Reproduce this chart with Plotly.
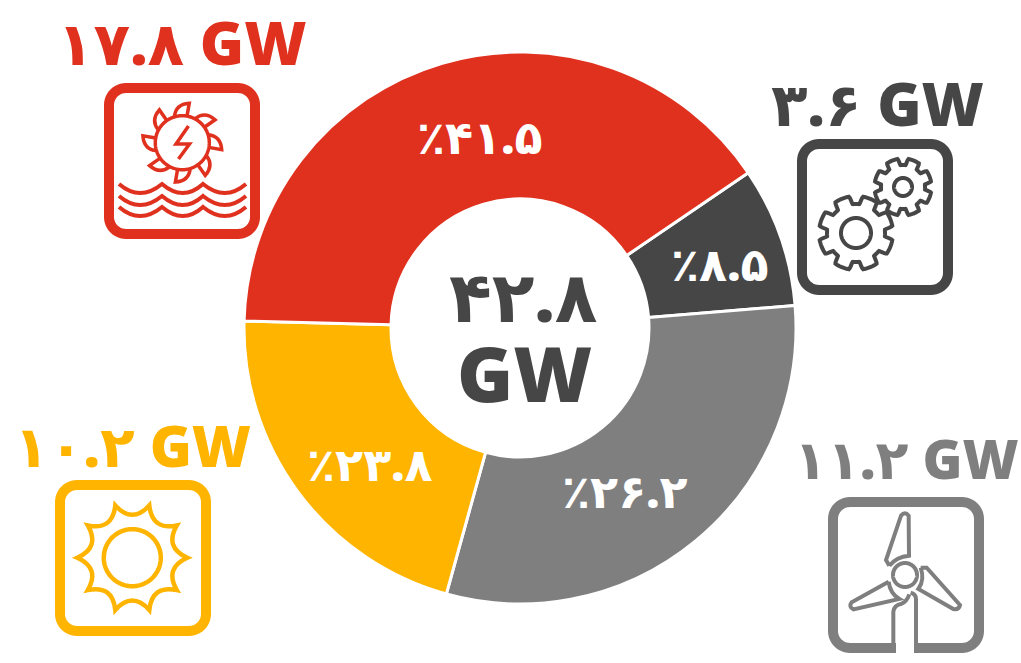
import math
import plotly.graph_objects as go

W, H = 1021, 663

categories = ["Other", "Wind", "Solar", "Hydro"]
slice_values = [8.2, 30.6, 21.1, 40.1]
percent_labels = ["٪۸.۵", "٪۲۶.۲", "٪۲۳.۸", "٪۴۱.۵"]
capacity_labels = ["۳.۶ GW", "۱۱.۲ GW", "۱۰.۲ GW", "۱۷.۸ GW"]
total_label = ["۴۲.۸", "GW"]
colors = ["#464646", "#7F7F7F", "#FFB400", "#E0301E"]

FONT = "Open Sans, DejaVu Sans"
DARK, GRAY, YEL, RED = colors
CX, CY, R_OUT, R_IN = 520, 328, 276, 129


def px(x, y):
    return f"{x / W:.5f} {1 - y / H:.5f}"


def poly(points, close=False):
    s = "M " + " L ".join(px(x, y) for x, y in points)
    return s + (" Z" if close else "")


shapes = []


def add(path, color, width):
    shapes.append(dict(type="path", xref="paper", yref="paper", path=path,
                       line=dict(color=color, width=width), fillcolor="rgba(0,0,0,0)",
                       layer="above"))


def circle(cx, cy, r):
    return poly([(cx + r * math.cos(t / 90 * math.pi), cy + r * math.sin(t / 90 * math.pi))
                 for t in range(180)], True)


def rrect_pts(x0, y0, x1, y1, r):
    pts = []
    for cx, cy, a0 in [(x1 - r, y0 + r, -90), (x1 - r, y1 - r, 0), (x0 + r, y1 - r, 90), (x0 + r, y0 + r, 180)]:
        for i in range(13):
            a = math.radians(a0 + i * 7.5)
            pts.append((cx + r * math.cos(a), cy + r * math.sin(a)))
    return pts


def frame(x0, y0, color):
    add(poly(rrect_pts(x0 + 5, y0 + 5, x0 + 151, y0 + 151, 17), True), color, 10)


def gear(cx, cy, r_out, r_root, teeth, rot, color, width):
    pts = []
    n = teeth * 40
    for i in range(n):
        t = i / n * 2 * math.pi
        phase = ((t * teeth / (2 * math.pi) + rot) % 1)
        d = abs(phase - 0.5) * 2
        k = min(1, max(0, (0.72 - d) / 0.22))
        k = k * k * (3 - 2 * k)
        r = r_root + (r_out - r_root) * k
        pts.append((cx + r * math.cos(t), cy + r * math.sin(t)))
    add(poly(pts, True), color, width)


# Hydro icon
frame(104, 83, RED)
hx, hy = 182.3, 142.7
add(circle(hx, hy, 27), RED, 3.5)
for k in range(8):
    th = math.radians(-80 + 45 * k)
    a = th - math.radians(27)
    ctrl = th - math.radians(20)
    tip = (hx + 40 * math.cos(th), hy + 40 * math.sin(th))
    base = (hx + 27 * math.cos(th), hy + 27 * math.sin(th))
    end = (hx + 27 * math.cos(a), hy + 27 * math.sin(a))
    c = (hx + 39 * math.cos(ctrl), hy + 39 * math.sin(ctrl))
    add(f"M {px(*base)} L {px(*tip)} Q {px(*c)} {px(*end)}", RED, 3.5)
add(poly([(188.5, 126), (176, 144), (189.5, 144), (178.5, 159)]), RED, 3.5)
for wy in [184, 196, 207]:
    add(f"M {px(119, wy)} Q {px(140, wy + 18)} {px(162, wy)} Q {px(183, wy + 18)} {px(203, wy)} "
        f"Q {px(225, wy + 18)} {px(246, wy)}", RED, 4)

# Gears icon
frame(797, 139, DARK)
gear(856, 233, 37, 29, 8, 0.0, DARK, 4)
add(circle(856, 233, 15), DARK, 4)
gear(903, 187, 28.5, 22, 8, 0.0, DARK, 4)
add(circle(903, 187, 9), DARK, 4)

# Solar icon
frame(55, 480, YEL)
sx, sy = 132.3, 557.7
add(circle(sx, sy, 28.5), YEL, 4.5)
parts = []
for k in range(10):
    a0, a1 = math.radians(36 * k), math.radians(36 * (k + 1))
    am = (a0 + a1) / 2
    if k == 0:
        parts.append("M " + px(sx + 55 * math.cos(a0), sy + 55 * math.sin(a0)))
    parts.append(f"Q {px(sx + 33.5 * math.cos(am), sy + 33.5 * math.sin(am))} "
                 f"{px(sx + 55 * math.cos(a1), sy + 55 * math.sin(a1))}")
add(" ".join(parts) + " Z", YEL, 4.5)


# Wind icon (crop coordinates of the reference icon region)
def z(x, y):
    return px(790 + x / 3, 425 + y / 3)


bar = rrect_pts(833, 502, 979, 648, 17)
ring = bar[13:26][::-1] + bar[:13][::-1] + bar[39:][::-1] + bar[26:39][::-1]
add(poly([(790 + 372 / 3, 648)] + ring + [(790 + 318 / 3, 648)]), GRAY, 10)
add(f"M {z(310, 683)} L {z(310, 560)} Q {z(312, 540)} {z(335, 536)} Q {z(350, 530)} {z(358, 508)}", GRAY, 4)
add(f"M {z(378, 683)} L {z(378, 522)} Q {z(378, 508)} {z(362, 503)}", GRAY, 4)
add(circle(790 + 345 / 3, 425 + 450 / 3, 12), GRAY, 4)
add(f"M {z(298, 422)} L {z(288, 405)} L {z(333, 272)} Q {z(345, 258)} {z(356, 272)} L {z(357, 392)} "
    f"Q {z(320, 395)} {z(298, 422)}", GRAY, 4)
add(f"M {z(296, 470)} L {z(185, 532)} Q {z(175, 545)} {z(190, 553)} L {z(328, 522)} "
    f"Q {z(300, 505)} {z(296, 470)}", GRAY, 4)
add(f"M {z(392, 428)} L {z(410, 428)} L {z(510, 540)} Q {z(507, 555)} {z(490, 552)} L {z(385, 492)} "
    f"Q {z(405, 465)} {z(392, 428)}", GRAY, 4)

fig = go.Figure(go.Pie(
    labels=categories, values=slice_values, sort=False, direction="clockwise",
    rotation=55.8, hole=R_IN / R_OUT, textinfo="none", hoverinfo="skip", showlegend=False,
    marker=dict(colors=colors, line=dict(color="white", width=3)),
    domain=dict(x=[(CX - R_OUT) / W, (CX + R_OUT) / W], y=[1 - (CY + R_OUT) / H, 1 - (CY - R_OUT) / H]),
))


def note(text, x, y, size, color):
    return dict(text=text, x=x / W, y=1 - y / H, xref="paper", yref="paper", showarrow=False,
                xanchor="center", yanchor="middle", align="center",
                font=dict(family=FONT, size=size, color=color, weight=800))


annotations = []
for text, (x, y) in zip(percent_labels, [(720, 263), (625, 490), (370, 463), (480, 136)]):
    annotations.append(note(text, x, y, 46, "white"))
for text, (x, y), color, size in zip(capacity_labels, [(877, 103), (906, 458), (132, 445), (182, 42)], colors,
                                     [60, 54, 57, 60]):
    annotations.append(note(text, x, y, size, color))
annotations.append(note(total_label[0], 523, 295, 70, DARK))
annotations.append(note(total_label[1], 524, 372, 76, DARK))

fig.update_layout(width=W, height=H, margin=dict(l=0, r=0, t=0, b=0), paper_bgcolor="white",
                  plot_bgcolor="white", shapes=shapes, annotations=annotations)
fig.write_html("out.html", config=dict(displayModeBar=False),
               post_script="document.body.style.margin='0';document.body.style.overflow='hidden';")
